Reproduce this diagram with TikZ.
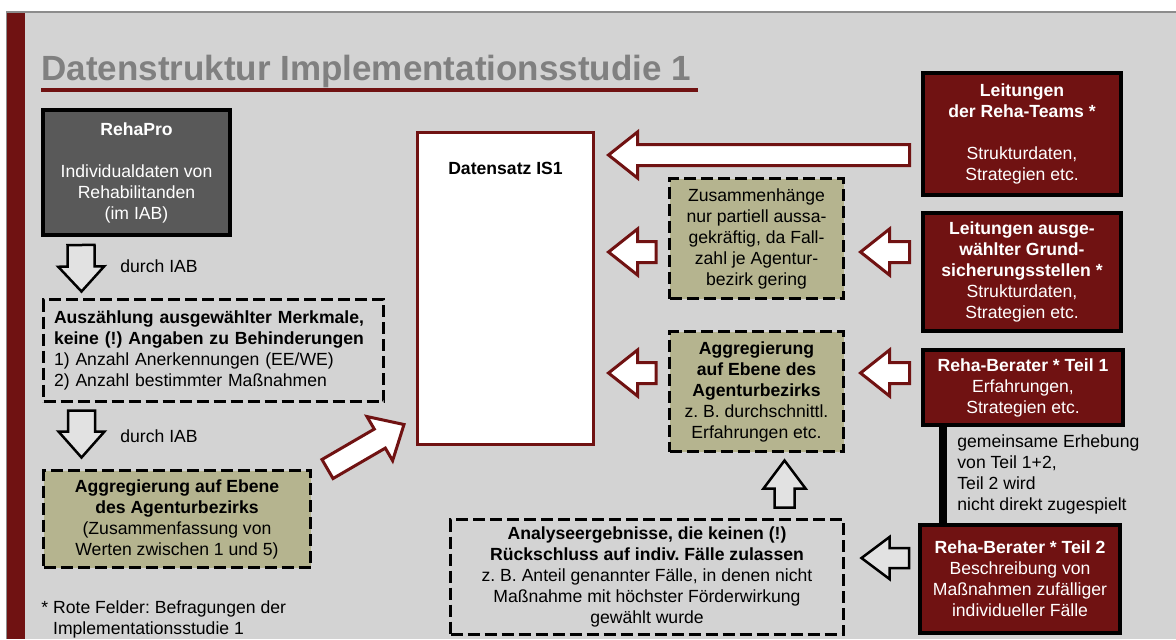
\documentclass[tikz,border=0pt]{standalone}
\usepackage{fontspec}
\setmainfont{Liberation Sans}
\usetikzlibrary{calc,positioning}
\frenchspacing
\definecolor{BgGray}{RGB}{211,211,211}
\definecolor{FrameGray}{RGB}{140,140,140}
\definecolor{TitleGray}{RGB}{128,128,128}
\definecolor{DarkRed}{RGB}{112,18,18}
\definecolor{Olive}{RGB}{181,180,143}
\definecolor{BoxGray}{RGB}{89,89,89}
\definecolor{ArrowFill}{RGB}{226,226,226}
\tikzset{
  txt/.style={font=\fontsize{8.8pt}{10.5pt}\selectfont,align=center,inner sep=0pt},
  srcbox/.style={txt,draw=black,line width=2pt,fill=BoxGray,text=white},
  survey/.style={txt,draw=black,line width=2pt,fill=DarkRed,text=white,minimum width=99pt},
  dashbox/.style={txt,draw=black,line width=1.5pt,dash pattern=on 6pt off 2.5pt},
  olivebox/.style={dashbox,fill=Olive},
  databox/.style={draw=DarkRed,line width=1.5pt,fill=white,minimum width=88pt,minimum height=156pt},
  redarrow/.style={draw=DarkRed,line width=1.5pt,fill=white,line join=miter},
  grayarrow/.style={draw=black,line width=1.25pt,fill=ArrowFill,line join=miter},
  note/.style={font=\fontsize{8.8pt}{10.5pt}\selectfont,align=left,inner sep=0pt}
}
\newcommand{\blockarrow}[6]{%
  \coordinate (bahead) at ($(#3)!#6!(#2)$);
  \draw[#1] ($(#2)!#4!90:(#3)$) -- ($(bahead)!#4!90:(#3)$) -- ($(bahead)!#5!90:(#3)$) -- (#3) -- ($(bahead)!#5!-90:(#3)$) -- ($(bahead)!#4!-90:(#3)$) -- ($(#2)!#4!-90:(#3)$) -- cycle;}

\begin{document}
\begin{tikzpicture}[x=0.5pt,y=-0.5pt]
\useasboundingbox (0,0) rectangle (1176,639);
\fill[white] (0,0) rectangle (1176,639);
\fill[BgGray] (7,12) rectangle (1176,639);
\draw[FrameGray,line width=0.75pt] (7,639) -- (7,12) -- (1176,12);
\fill[DarkRed] (7,13) rectangle (25,639);

\node[anchor=base west,inner sep=0pt,text=TitleGray,font=\fontsize{17.5pt}{21pt}\selectfont\bfseries] (title) at (41,80) {Datenstruktur Implementationsstudie 1};
\draw[DarkRed,line width=2pt] ($(title.base west)+(0pt,-4.75pt)$) -- ($(title.base west)+(328.5pt,-4.75pt)$);

\node[srcbox,minimum width=93.5pt,minimum height=62.5pt] (rehapro) at (136.5,172.5) {\textbf{RehaPro}\\[10.5pt]Individualdaten von\\Rehabilitanden\\(im IAB)};
\node[dashbox,minimum width=170pt,minimum height=51pt,text width=159.5pt,align=left] (count) at (213.5,350.5) {\textbf{Auszählung ausgewählter Merkmale,}\\\textbf{keine (!) Angaben zu Behinderungen}\\1) Anzahl Anerkennungen (EE/WE)\\2) Anzahl bestimmter Maßnahmen};
\node[olivebox,minimum width=133.5pt,minimum height=48.5pt] (aggleft) at (177,519) {\textbf{Aggregierung auf Ebene}\\\textbf{des Agenturbezirks}\\(Zusammenfassung von\\Werten zwischen 1 und 5)};
\node[note,anchor=west] (via1) at (120,266) {durch IAB};
\node[note,anchor=west] (via2) at (120,436) {durch IAB};
\node[note,anchor=west] (footnote) at (41,619.5) {* Rote Felder: Befragungen der\\\hphantom{*~}Implementationsstudie 1};

\node[databox] (ds) at (505.5,288.5) {};
\node[txt,font=\fontsize{8.8pt}{10.5pt}\selectfont\bfseries] (dstitle) at ($(ds.north)+(0pt,-18.75pt)$) {Datensatz IS1};

\node[olivebox,minimum width=87pt,minimum height=60pt] (partial) at (756.5,238.5) {Zusammenhänge\\nur partiell aussa-\\gekräftig, da Fall-\\zahl je Agentur-\\bezirk gering};
\node[olivebox,minimum width=87pt,minimum height=60pt] (aggmid) at (756.5,391.5) {\textbf{Aggregierung}\\\textbf{auf Ebene des}\\\textbf{Agenturbezirks}\\z.~B. durchschnittl.\\Erfahrungen etc.};
\node[dashbox,minimum width=196.5pt,minimum height=57.5pt] (results) at (647,577) {\textbf{Analyseergebnisse, die keinen (!)}\\\textbf{Rückschluss auf indiv. Fälle zulassen}\\z.~B. Anteil genannter Fälle, in denen nicht\\Maßnahme mit höchster Förderwirkung\\gewählt wurde};

\node[survey,minimum height=61pt] (teams) at (1022,134) {\textbf{Leitungen}\\\textbf{der Reha-Teams *}\\[10.5pt]Strukturdaten,\\Strategien etc.};
\node[survey,minimum height=59pt] (jobcentre) at (1022,272) {\textbf{Leitungen ausge-}\\\textbf{wählter Grund-}\\\textbf{sicherungsstellen *}\\Strukturdaten,\\Strategien etc.};
\node[survey,minimum width=100pt,minimum height=37.5pt] (part1) at (1023,387.5) {\textbf{Reha-Berater * Teil 1}\\Erfahrungen,\\Strategien etc.};
\node[survey,minimum width=100pt,minimum height=54pt] (part2) at (1020,579) {\textbf{Reha-Berater * Teil 2}\\Beschreibung von\\Maßnahmen zufälliger\\individueller Fälle};

\coordinate (link) at ($(part1.south west)+(11pt,0pt)$);
\draw[line width=4pt] (link) -- (link |- part2.north);
\node[note,anchor=west] (joint) at (957,474) {gemeinsame Erhebung\\von Teil 1+2,\\Teil 2 wird\\nicht direkt zugespielt};

\coordinate (lvl1) at (0,155);
\coordinate (lvl2) at (0,252);
\coordinate (lvl3) at (0,373);
\coordinate (lvl4) at (0,558);

\coordinate (a1t) at ($(teams.west |- lvl1)+(-5.75pt,0pt)$);
\coordinate (a1p) at ($(ds.east |- lvl1)+(6.75pt,0pt)$);
\blockarrow{redarrow}{a1t}{a1p}{5.25pt}{11.5pt}{14.5pt}
\coordinate (a2t) at ($(jobcentre.west |- lvl2)+(-5.75pt,0pt)$);
\coordinate (a2p) at ($(partial.east |- lvl2)+(7.75pt,0pt)$);
\blockarrow{redarrow}{a2t}{a2p}{5.25pt}{11.5pt}{14.5pt}
\coordinate (a3t) at ($(partial.west |- lvl2)+(-6pt,0pt)$);
\coordinate (a3p) at ($(ds.east |- lvl2)+(6.75pt,0pt)$);
\blockarrow{redarrow}{a3t}{a3p}{5.25pt}{11.5pt}{14.5pt}
\coordinate (a4t) at ($(part1.west |- lvl3)+(-5.75pt,0pt)$);
\coordinate (a4p) at ($(aggmid.east |- lvl3)+(7.75pt,0pt)$);
\blockarrow{redarrow}{a4t}{a4p}{5.25pt}{11.5pt}{14.5pt}
\coordinate (a5t) at ($(aggmid.west |- lvl3)+(-6pt,0pt)$);
\coordinate (a5p) at ($(ds.east |- lvl3)+(6.75pt,0pt)$);
\blockarrow{redarrow}{a5t}{a5p}{5.25pt}{11.5pt}{14.5pt}
\coordinate (a6t) at ($(part2.west |- lvl4)+(-4.5pt,0pt)$);
\coordinate (a6p) at ($(results.east |- lvl4)+(8.25pt,0pt)$);
\blockarrow{grayarrow}{a6t}{a6p}{5pt}{10.5pt}{14pt}
\coordinate (a7t) at ($(results.north -| aggmid.south)+(14pt,5.25pt)$);
\coordinate (a7p) at ($(aggmid.south)+(14pt,-3.75pt)$);
\blockarrow{grayarrow}{a7t}{a7p}{5pt}{10.5pt}{14pt}
\coordinate (a8t) at ($(rehapro.south west)+(20pt,-4pt)$);
\coordinate (a8p) at ($(count.north west)+(19.75pt,3.25pt)$);
\blockarrow{grayarrow}{a8t}{a8p}{6.75pt}{11.5pt}{12.5pt}
\coordinate (a9t) at ($(count.south west)+(19.75pt,-3.75pt)$);
\coordinate (a9p) at ($(aggleft.north west)+(19.75pt,5.75pt)$);
\blockarrow{grayarrow}{a9t}{a9p}{6.75pt}{11.5pt}{13pt}
\coordinate (a10t) at ($(aggleft.north east)+(7.75pt,0pt)$);
\coordinate (a10p) at ($(ds.south west)+(-6pt,10.75pt)$);
\blockarrow{redarrow}{a10t}{a10p}{5.5pt}{12.75pt}{14pt}
\end{tikzpicture}
\end{document}
